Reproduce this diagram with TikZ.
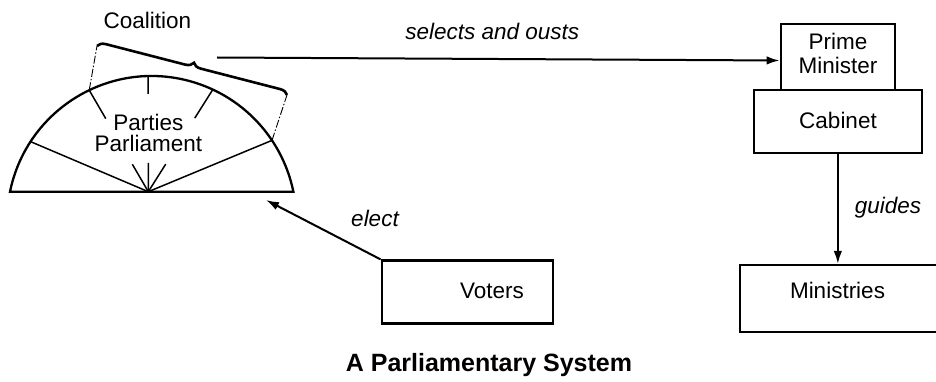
\documentclass[tikz,border=0pt]{standalone}
\usepackage{fontspec}
\setmainfont{Liberation Sans}
\usetikzlibrary{arrows.meta,decorations.pathreplacing,calc}
\begin{document}
\begin{tikzpicture}[x=1pt,y=1pt,
  lbl/.style={font=\fontsize{22.5}{24}\selectfont, inner sep=0pt, anchor=base},
  ilbl/.style={font=\fontsize{22.5}{24}\selectfont\itshape, inner sep=0pt, anchor=base},
  ttl/.style={font=\fontsize{25}{27}\selectfont\bfseries, inner sep=0pt, anchor=base},
  boxline/.style={draw, line width=2.2pt, inner sep=0pt},
  conn/.style={line width=2pt, -{Latex[length=13pt,width=8.5pt]}},
  spoke/.style={line width=1.5pt},
  dashln/.style={line width=0.9pt, dash pattern=on 8pt off 2pt on 1.5pt off 2pt},
]
\useasboundingbox (0,0) rectangle (936,-382);
\clip (0,0) rectangle (936,-382);
\fill[white] (0,0) rectangle (936,-382);

% Parliament half-dome
\coordinate (O) at (151.7,-220.6);
\coordinate (C) at (148.3,-191.7);
\draw[line width=2.3pt] (10,-191.77) arc[start angle=168.5,end angle=11.5,radius=144.6] -- cycle;
\coordinate (A1) at ($(O)+(115.6:144.6)$);
\coordinate (A2) at ($(O)+(91.4:144.6)$);
\coordinate (A3) at ($(O)+(65:144.6)$);
\coordinate (AL) at ($(O)+(146.9:144.6)$);
\coordinate (AR) at ($(O)+(33.7:144.6)$);
\draw[spoke] (C) -- (AL);
\draw[spoke] (C) -- (AR);
\draw[spoke] (A1) -- ($(C)!0.72!(A1)$);
\draw[spoke] (C) -- ($(C)!0.27!(A1)$);
\draw[spoke] (A2) -- ($(C)!0.845!(A2)$);
\draw[spoke] (C) -- ($(C)!0.25!(A2)$);
\draw[spoke] (A3) -- ($(C)!0.72!(A3)$);
\draw[spoke] (C) -- ($(C)!0.27!(A3)$);
\node[lbl] (parties) at (148.3,-131) {Parties};
\node[lbl] (parl) at (148.3,-152) {Parliament};

% Coalition brace
\coordinate (bl) at (97,-46);
\coordinate (br) at (287,-95);
\draw[decorate, decoration={brace, amplitude=8pt}, line width=2.6pt] (bl) -- (br);
\draw[dashln] (A1) -- (bl);
\draw[dashln] (AR) -- (br);
\node[lbl] (coal) at (147.3,-28.3) {Coalition};

% Right-hand boxes
\node[boxline, minimum width=114.3pt, minimum height=66pt] (pm) at (837.85,-57) {};
\node[lbl] (pm1) at (838,-50) {Prime};
\node[lbl] (pm2) at (838,-74) {Minister};
\node[boxline, minimum width=167.7pt, minimum height=63.3pt] (cab) at (837.85,-121.65) {};
\node[lbl] (cabt) at (838,-128.3) {Cabinet};
\node[boxline, minimum width=220pt, minimum height=66.7pt] (min) at (850,-298.35) {};
\node[lbl] (mint) at (837.5,-298) {Ministries};

% Voters
\node[boxline, minimum width=171.3pt, minimum height=63pt] (vot) at (467.35,-292) {};
\node[lbl] (vott) at (492,-298) {Voters};

% Connectors
\coordinate (selstart) at (217,-57.5);
\draw[conn] (selstart) -- ([yshift=-3.5pt]pm.west);
\node[ilbl] (sel) at (492.2,-40) {selects and ousts};
\draw[conn] (cab.south) -- (cab.south |- min.north);
\node[ilbl] (gd) at (888,-213) {guides};
\coordinate (electend) at (266,-200);
\draw[conn] (vot.north west) -- (electend);
\node[ilbl] (el) at (375,-226.7) {elect};

% Title
\node[ttl] (title) at (489,-371.7) {A Parliamentary System};
\end{tikzpicture}
\end{document}
